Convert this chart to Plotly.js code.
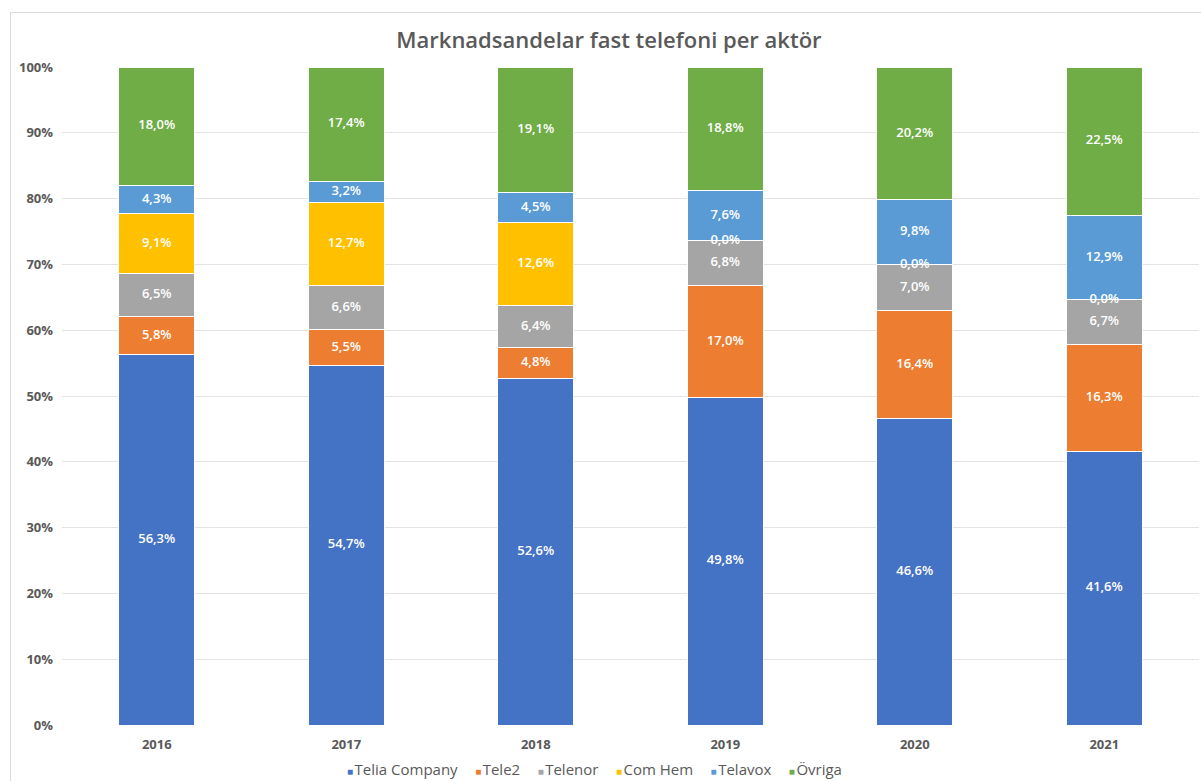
<!DOCTYPE html>
<html>
<head>
<meta charset="utf-8">
<script src="https://cdn.plot.ly/plotly-3.0.1.min.js"></script>
<style>
html,body{margin:0;padding:0;background:#fff;}
#frame{position:absolute;left:10px;top:12px;width:1300px;height:900px;border-left:1px solid #d9d9d9;border-top:1px solid #d9d9d9;}
#chart{position:absolute;left:0;top:0;width:1201px;height:781px;}
</style>
</head>
<body>
<div id="frame"></div>
<div id="chart"></div>
<script>
const years = ['2016','2017','2018','2019','2020','2021'];
const seriesNames = ['Telia Company','Tele2','Telenor','Com Hem','Telavox','Övriga'];
const telia   = [56.3, 54.7, 52.6, 49.8, 46.6, 41.6];
const tele2   = [5.8, 5.5, 4.8, 17.0, 16.4, 16.3];
const telenor = [6.5, 6.6, 6.4, 6.8, 7.0, 6.7];
const comhem  = [9.1, 12.7, 12.6, 0.0, 0.0, 0.0];
const telavox = [4.3, 3.2, 4.5, 7.6, 9.8, 12.9];
const ovriga  = [18.0, 17.4, 19.1, 18.8, 20.2, 22.5];
const colors = ['#4472C4','#ED7D31','#A5A5A5','#FFC000','#5B9BD5','#70AD47'];

const series = [telia, tele2, telenor, comhem, telavox, ovriga];
const totals = years.map((_, i) => series.reduce((s, a) => s + a[i], 0));

const fontFam = '"Open Sans", "Noto Sans", sans-serif';
const traces = [];
series.forEach((vals, k) => {
  traces.push({
    type: 'bar', name: seriesNames[k], x: years, y: vals,
    marker: {color: colors[k], line: {color: '#ffffff', width: 1}},
    width: 0.4, hoverinfo: 'skip', showlegend: false
  });
});
// labels at the centre of each (normalised) segment
const fmt = v => v.toFixed(1).replace('.', ',') + '%';
const cum = years.map(() => 0);
series.forEach((vals, k) => {
  const ys = [], txt = [];
  vals.forEach((v, i) => {
    const norm = v / totals[i] * 100;
    ys.push(cum[i] + norm / 2);
    cum[i] += norm;
    txt.push(fmt(v));
  });
  traces.push({
    type: 'scatter', mode: 'text', x: years, y: ys, text: txt,
    textfont: {color: '#ffffff', size: 13, family: fontFam, weight: 600},
    showlegend: false, hoverinfo: 'skip', cliponaxis: false
  });
});

// compact legend built as text from series names and colours
const legendText = seriesNames.map((n, k) =>
  '<span style="color:' + colors[k] + ';font-size:10px">■</span>\u200A' + n
).join('\u2003\u2009');

const layout = {
  width: 1201, height: 781,
  paper_bgcolor: 'rgba(0,0,0,0)', plot_bgcolor: 'rgba(0,0,0,0)',
  barmode: 'stack', barnorm: 'percent',
  margin: {l: 62, r: 2, t: 67, b: 56},
  title: {text: 'Marknadsandelar fast telefoni per aktör', x: 0.507, xanchor: 'center', y: 0.949, yanchor: 'middle',
          font: {family: fontFam, size: 22, color: '#595959', weight: 600}},
  xaxis: {type: 'category', showgrid: false, zeroline: false, showline: false, ticks: '', ticklabelstandoff: 10,
          tickfont: {family: fontFam, size: 13, color: '#595959', weight: 700}},
  yaxis: {range: [0, 100], dtick: 10, ticksuffix: '%', showgrid: true, gridcolor: '#e3e3e3', gridwidth: 1,
          zeroline: false, showline: false, ticks: '', ticklabelstandoff: 8,
          tickfont: {family: fontFam, size: 13, color: '#595959', weight: 700}},
  annotations: [{
    text: legendText, xref: 'paper', yref: 'paper', x: 0.468, y: -0.067,
    xanchor: 'center', yanchor: 'middle', showarrow: false,
    font: {family: fontFam, size: 15, color: '#595959'}
  }],
  showlegend: false
};
Plotly.newPlot('chart', traces, layout, {displayModeBar: false, staticPlot: true});
</script>
</body>
</html>
